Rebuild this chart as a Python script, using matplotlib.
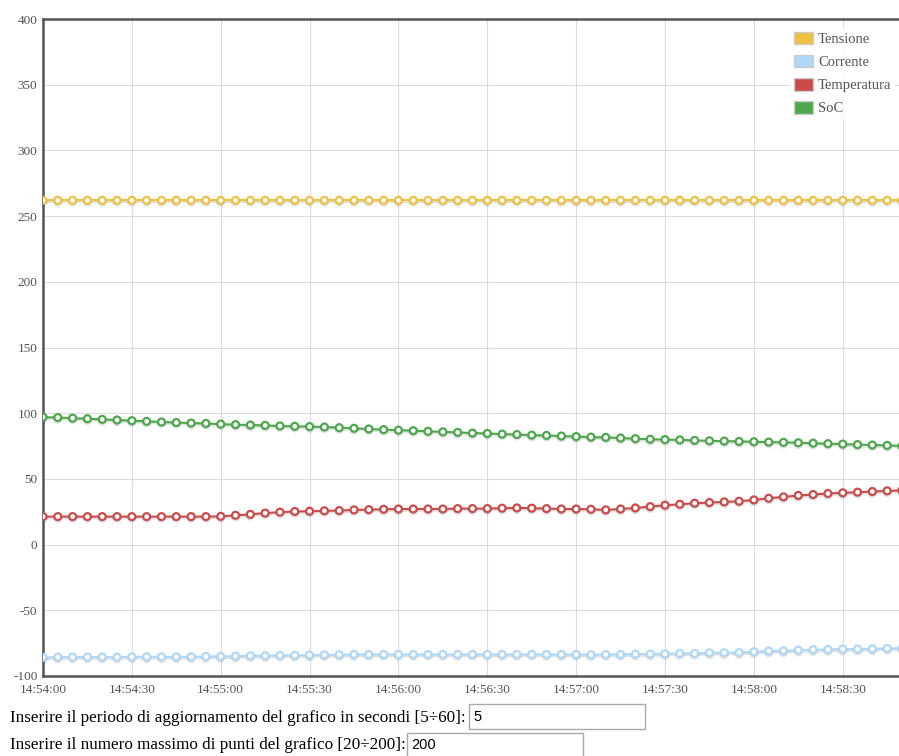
import matplotlib
matplotlib.use("Agg")
import matplotlib.pyplot as plt
import matplotlib.patheffects as pe
from matplotlib.patches import Patch, Rectangle

plt.rcParams['font.family'] = ['Liberation Serif', 'DejaVu Serif']
plt.rcParams['axes.unicode_minus'] = False

# sample times, seconds after 14:54:00 (one sample every 5 s)
seconds = list(range(0, 295, 5))
tick_seconds = [0, 30, 60, 90, 120, 150, 180, 210, 240, 270]
tick_labels = ["14:54:00", "14:54:30", "14:55:00", "14:55:30", "14:56:00",
               "14:56:30", "14:57:00", "14:57:30", "14:58:00", "14:58:30"]

tensione = [262.0] * 59
corrente = [-85.9, -85.6, -85.6, -85.6, -85.6, -85.6, -85.4, -85.4, -85.4, -85.4,
            -85.4, -85.1, -85.1, -84.9, -84.6, -84.6, -84.3, -84.3, -84.1, -83.9,
            -83.8, -83.6, -83.6, -83.6, -83.6, -83.6, -83.6, -83.6, -83.6, -83.6,
            -83.6, -83.6, -83.6, -83.6, -83.6, -83.6, -83.6, -83.8, -83.6, -83.6,
            -83.3, -83.3, -83.1, -82.8, -82.8, -82.3, -82.3, -82.1, -81.5, -81.0,
            -80.8, -80.3, -80.0, -79.8, -79.5, -79.5, -79.3, -79.0, -78.8]
temperatura = [21.3, 21.3, 21.3, 21.3, 21.3, 21.3, 21.3, 21.3, 21.3, 21.3,
               21.3, 21.3, 21.5, 22.3, 23.0, 24.0, 24.7, 25.2, 25.4, 25.7,
               25.9, 26.4, 26.6, 26.9, 27.1, 27.1, 27.1, 27.1, 27.4, 27.4,
               27.4, 27.7, 27.9, 27.7, 27.4, 27.1, 27.1, 26.9, 26.4, 27.1,
               27.9, 28.9, 30.0, 30.7, 31.5, 32.0, 32.5, 33.0, 34.0, 35.3,
               36.3, 37.4, 38.1, 38.9, 39.4, 39.9, 40.4, 40.9, 41.3]
soc = [97.0, 96.7, 96.2, 95.8, 95.3, 94.8, 94.3, 93.8, 93.3, 92.9,
       92.5, 92.2, 91.7, 91.3, 91.0, 90.7, 90.3, 90.0, 89.8, 89.5,
       89.0, 88.5, 88.0, 87.5, 87.1, 86.7, 86.2, 85.8, 85.4, 84.9,
       84.6, 84.1, 83.8, 83.3, 83.1, 82.6, 82.2, 81.8, 81.6, 81.1,
       80.6, 80.2, 79.9, 79.7, 79.3, 79.0, 78.8, 78.5, 78.3, 78.0,
       77.8, 77.5, 77.2, 76.8, 76.5, 76.1, 75.8, 75.5, 75.1]

names = ["Tensione", "Corrente", "Temperatura", "SoC"]
colors = ["#edc240", "#afd8f8", "#cb4b4b", "#4da74d"]

fig = plt.figure(figsize=(8.99, 7.56), dpi=100)
ax = fig.add_axes([43 / 899, 80 / 756, 856 / 899, 657 / 756])

shadow = [pe.SimpleLineShadow(offset=(0, -1.2), shadow_color='black', alpha=0.12), pe.Normal()]
for vals, c in zip([tensione, corrente, temperatura, soc], colors):
    ax.plot(seconds, vals, color=c, lw=1.5, marker='o', ms=5, mfc='white',
            mec=c, mew=1.6, path_effects=shadow, zorder=3)

ax.set_xlim(0, 289)
ax.set_ylim(-100, 400)
ax.set_yticks(range(-100, 401, 50))
ax.set_xticks(tick_seconds)
ax.set_xticklabels(tick_labels)
ax.grid(True, color='#dddddd', lw=0.8)
ax.set_axisbelow(True)
ax.tick_params(length=0, labelcolor='#545454', labelsize=9.5)
ax.tick_params(axis='y', pad=4)
ax.tick_params(axis='x', pad=6)
for s in ['left', 'top', 'bottom']:
    ax.spines[s].set_color('#545454')
    ax.spines[s].set_linewidth(1.8)
ax.spines['right'].set_visible(False)

handles = [Patch(facecolor=c, edgecolor='#cccccc', lw=1) for c in colors]
leg = ax.legend(handles, names, loc='upper left', bbox_to_anchor=(0.873, 0.986),
                frameon=True, fancybox=False, fontsize=10.5, handlelength=1.3,
                handleheight=0.95, handletextpad=0.35, labelspacing=0.6,
                borderpad=0.25, borderaxespad=0)
leg.get_frame().set_facecolor('white')
leg.get_frame().set_alpha(0.85)
leg.get_frame().set_linewidth(0)
for t in leg.get_texts():
    t.set_color('#545454')

# form below the chart
fig.text(10 / 899, 1 - 718 / 756,
         "Inserire il periodo di aggiornamento del grafico in secondi [5\u00f760]:",
         va='center', ha='left', fontsize=12.3, color='black')
fig.text(10 / 899, 1 - 745 / 756,
         "Inserire il numero massimo di punti del grafico [20\u00f7200]:",
         va='center', ha='left', fontsize=12.3, color='black')
fig.add_artist(Rectangle((469 / 899, 1 - 729 / 756), 176 / 899, 25 / 756,
                         transform=fig.transFigure, fill=False, ec='#a9a9a9', lw=1))
fig.add_artist(Rectangle((407 / 899, 1 - 759 / 756), 176 / 899, 26 / 756,
                         transform=fig.transFigure, fill=False, ec='#a9a9a9', lw=1))
fig.text(473 / 899, 1 - 717 / 756, "5", va='center', ha='left', fontsize=10.5,
         family='Liberation Sans')
fig.text(411 / 899, 1 - 745 / 756, "200", va='center', ha='left', fontsize=10.5,
         family='Liberation Sans')

fig.savefig("out.png", dpi=100)
